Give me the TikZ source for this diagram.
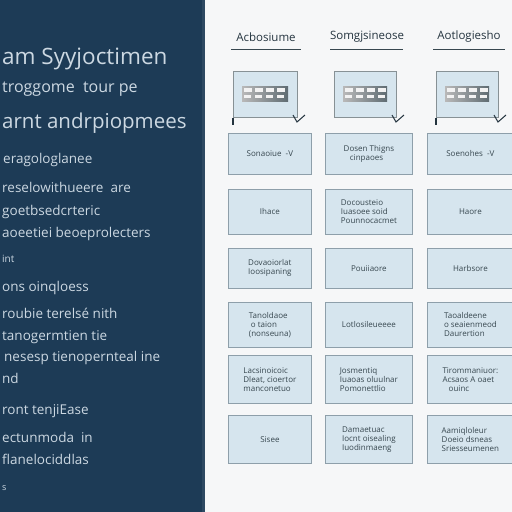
\documentclass[tikz,border=0pt]{standalone}
\usepackage{fontspec}
\setmainfont{Open Sans}
\definecolor{navy}{HTML}{1D3B56}
\definecolor{paper}{HTML}{F6F7F8}
\definecolor{cellfill}{HTML}{D6E5EE}
\definecolor{celldraw}{HTML}{8E9FAA}
\definecolor{lighttext}{HTML}{CCD8E2}
\definecolor{darktext}{HTML}{37474F}
\definecolor{headtext}{HTML}{24343F}
\begin{document}
\begin{tikzpicture}[x=1pt,y=-1pt,
  cell/.style={draw=celldraw, line width=0.8pt, fill=cellfill, inner sep=0pt},
  celltext/.style={font=\fontsize{8}{9}\selectfont, text=darktext, align=left},
  side/.style={anchor=base west, text=lighttext, inner sep=0pt},
  sidesmall/.style={side, font=\fontsize{13.5}{15}\selectfont},
  head/.style={font=\fontsize{11.5}{13}\selectfont, text=headtext, inner sep=0pt},
  tick/.style={line width=1pt, draw=darktext}]
\useasboundingbox (0,0) rectangle (512,512);
\clip (0,0) rectangle (512,512);
\fill[paper] (0,0) rectangle (512,512);
\fill[navy] (0,0) rectangle (205,512);
\fill[navy!93!white] (202,0) rectangle (205,512);

% left panel text
\node[side, font=\fontsize{22.5}{25}\selectfont] (l1) at (2,64) {am Syyjoctimen};
\node[side, font=\fontsize{16}{18}\selectfont] (l2) at (2,92) {troggome\ \ tour pe};
\node[side, font=\fontsize{20.5}{23}\selectfont] (l3) at (2,128) {arnt andrpiopmees};
\node[sidesmall] (l4) at (3,163) {eragologlanee};
\node[sidesmall] (l5) at (2,192) {reselowithueere\ \ are};
\node[sidesmall] (l6) at (2,215) {goetbsedcrteric};
\node[sidesmall] (l7) at (2,237) {aoeetiei beoeprolecters};
\node[side, font=\fontsize{10}{12}\selectfont] (l8) at (2,262) {int};
\node[sidesmall] (l9) at (2,291) {ons oinqloess};
\node[sidesmall] (l10) at (2,318) {roubie terelsé nith};
\node[sidesmall] (l11) at (2,340) {tanogermtien tie};
\node[sidesmall] (l12) at (4,361) {nesesp tienopernteal ine};
\node[sidesmall] (l13) at (2,383) {nd};
\node[sidesmall] (l14) at (2,414) {ront tenjiEase};
\node[sidesmall] (l15) at (2,442) {ectunmoda\ \ in};
\node[sidesmall] (l16) at (2,464) {flanelociddlas};
\node[side, font=\fontsize{9}{10}\selectfont] (l17) at (2,490) {s};

% column headers
\node[head] (h1) at (266,37) {Acbosiume};
\node[head] (h2) at (367,37) {Somgjsineose};
\node[head] (h3) at (469,37) {Aotlogiesho};
\draw[darktext, line width=0.8pt] (231,49) -- (301,49);
\draw[darktext, line width=0.8pt] (330,49) -- (403,49);
\draw[darktext, line width=0.8pt] (433,49) -- (505,49);

% top preview boxes
\foreach \n/\x/\y in {1/233/297, 2/334/396, 3/436/498} {
  \node[cell, draw=darktext!60, minimum width=\y-\x, minimum height=46, anchor=north west] (t\n) at (\x,71) {};
  \fill[left color=gray!55, right color=darktext!80] (\x+9,86) rectangle (\y-9,101);
  \foreach \k in {0,1,2,3} {
    \fill[white!90!gray] (\x+11+\k*11,88) rectangle (\x+19+\k*11,92);
    \fill[white!90!gray] (\x+11+\k*11,95) rectangle (\x+18+\k*11,98);
  }
  \draw[line width=1pt, headtext] (\y-4,115) -- (\y,122) -- (\y+8,115);
}
\draw[line width=1.2pt, headtext] (t1.south west) -- ++(0,7);
\draw[line width=1.2pt, headtext] (t3.south west) -- ++(0,7);

% grid cells
\def\cellA#1#2#3#4{\node[cell, minimum width=83, minimum height=#4, anchor=north west] (#1) at (228,#3) {}; \node[celltext, anchor=center] at (#1.center) {#2};}
\def\cellB#1#2#3#4{\node[cell, minimum width=87, minimum height=#4, anchor=north west] (#1) at (325,#3) {}; \node[celltext, anchor=center] at (#1.center) {#2};}
\def\cellC#1#2#3#4{\node[cell, minimum width=86, minimum height=#4, anchor=north west] (#1) at (427,#3) {}; \node[celltext, anchor=center] at (#1.center) {#2};}

\cellA{a1}{Sonaoiue\ \ -V}{133}{41}
\cellB{b1}{Dosen Thigns\\\ \ \ cinpaoes}{133}{41}
\cellC{c1}{Soenohes\ \ -V}{133}{41}

\cellA{a2}{Ihace}{189}{45}
\cellB{b2}{Docousteio\\Iuasoee soid\\Pounnocacmet}{189}{45}
\cellC{c2}{Haore}{189}{45}

\cellA{a3}{Dovaoiorlat\\Ioosipaning}{248}{40}
\cellB{b3}{Pouiiaore}{248}{40}
\cellC{c3}{Harbsore}{248}{40}

\cellA{a4}{Tanoldaoe\\\ o taion\\(nonseuna)}{302}{45}
\cellB{b4}{Lotlosileueeee}{302}{45}
\cellC{c4}{Taoaldeene\\o seaienmeod\\Daurertion}{302}{45}

\cellA{a5}{Lacsinoicoic\\Dleat, cioertor\\manconetuo}{355}{48}
\cellB{b5}{Josmentiq\\Iuaoas oluulnar\\Pomonettlio}{355}{48}
\cellC{c5}{Tirommaniuor:\\Acsaos A oaet\\\ \ \ ouinc}{355}{48}

\cellA{a6}{Sisee}{415}{48}
\cellB{b6}{Damaetuac\\Iocnt oisealing\\Iuodinmaeng}{415}{48}
\cellC{c6}{Aamiqloleur\\Doeio dsneas\\Sriesseumenen}{415}{48}
\end{tikzpicture}
\end{document}
